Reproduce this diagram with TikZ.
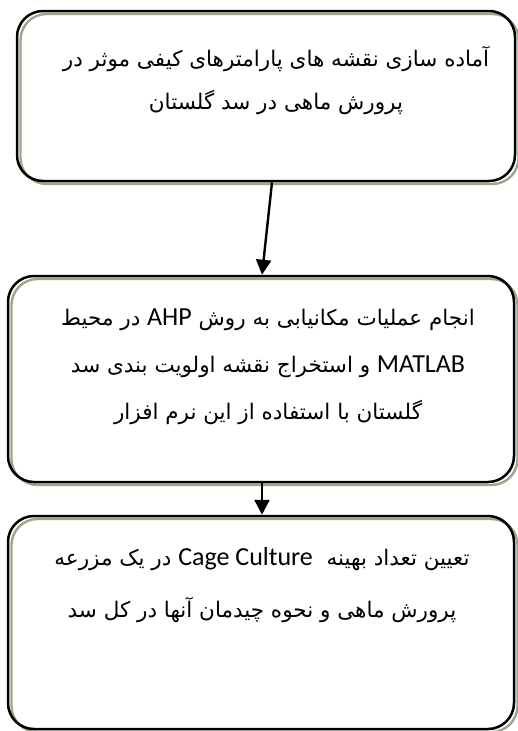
\documentclass[tikz,border=0pt]{standalone}
\usepackage{fontspec}
\usetikzlibrary{arrows.meta,shadows}
\TeXXeTstate=1
\newfontfamily\fafont[Script=Arabic]{DejaVu Sans}
\newfontfamily\latfont{Carlito}
\newcommand\rtline[1]{\beginR#1\endR}
\newcommand\ltw[1]{{\latfont\fontsize{26}{30}\selectfont\beginL#1\endL}}
\definecolor{shadowc}{HTML}{9BA68A}
\begin{document}
\begin{tikzpicture}[x=1pt,y=-1pt,
  box/.style={draw=black, line width=2.5pt, rounded corners=26pt, inner sep=0pt,
    general shadow={draw=shadowc, line width=2.4pt, shadow xshift=3.5pt, shadow yshift=-3pt}},
  txt/.style={align=center, inner sep=0pt, font=\fafont\fontsize{21.5}{#1}\selectfont},
  arr/.style={line width=2.4pt, -{Triangle[width=15pt,length=15pt]}}]
\useasboundingbox (0,0) rectangle (518,731);
\node[box, minimum width=498pt, minimum height=170pt] (b1) at (266,96) {};
\node[box, minimum width=506pt, minimum height=206pt] (b2) at (261,379) {};
\node[box, minimum width=506pt, minimum height=213pt] (b3) at (261,622.5) {};
\node[txt=43pt] (t1) at (276,81) {\rtline{آماده سازی نقشه های پارامترهای کیفی موثر در}\\\rtline{پرورش ماهی در سد گلستان}};
\node[txt=47pt] (t2) at (268,367) {\rtline{انجام عملیات مکانیابی به روش \ltw{AHP} در محیط}\\\rtline{\ltw{MATLAB} و استخراج نقشه اولویت بندی سد}\\\rtline{گلستان با استفاده از این نرم افزار}};
\node[txt=52pt] (t3) at (262,585) {\rtline{تعیین تعداد بهینه \ \ltw{Cage Culture} در یک مزرعه}\\\rtline{پرورش ماهی و نحوه چیدمان آنها در کل سد}};
\draw[arr] ([xshift=6pt]b1.south) -- ([xshift=1pt]b2.north);
\draw[arr] ([xshift=1pt]b2.south) -- ([xshift=1pt]b3.north);
\end{tikzpicture}
\end{document}
